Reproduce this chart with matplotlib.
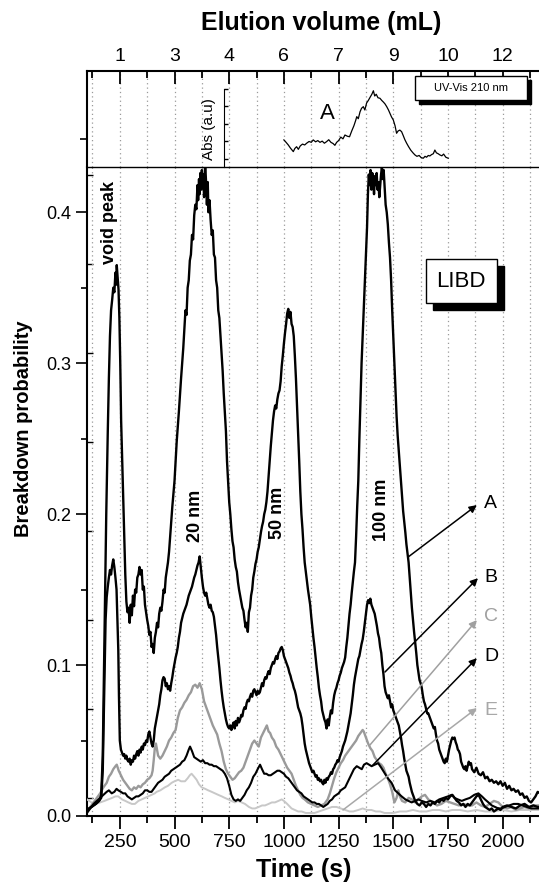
import numpy as np
import matplotlib
matplotlib.use("Agg")
import matplotlib.pyplot as plt
from matplotlib.ticker import MultipleLocator, FixedLocator, NullFormatter
from matplotlib.patches import Rectangle

plt.rcParams['font.family'] = ['Liberation Sans', 'DejaVu Sans']

# ---- data ---------------------------------------------------------------
# LIBD breakdown probability, fraction A
t_A = [100, 120, 140, 155, 165, 172, 180, 188, 195, 200, 205, 210, 215, 220, 225, 230, 233, 236, 240, 244,
       248, 252, 256, 260, 265, 270, 275, 280, 285, 290, 295, 300, 305, 310, 315, 320, 325, 330, 335, 340,
       345, 350, 355, 360, 365, 370, 375, 380, 385, 390, 395, 400, 405, 410, 415, 420, 425, 430, 435, 440,
       445, 450, 455, 460, 465, 470, 475, 480, 490, 500, 510, 520, 530, 540, 545, 550, 555, 560, 565, 570,
       575, 580, 585, 590, 595, 600, 605, 608, 612, 615, 618, 622, 625, 628, 632, 635, 640, 645, 648, 652,
       655, 660, 665, 670, 675, 680, 685, 690, 695, 700, 705, 710, 715, 720, 725, 730, 735, 740, 745, 750,
       755, 760, 765, 770, 775, 780, 785, 790, 795, 800, 805, 810, 815, 820, 825, 830, 835, 840, 845, 850,
       855, 860, 865, 870, 875, 880, 885, 890, 895, 900, 905, 910, 915, 920, 925, 930, 940, 950, 955, 960,
       965, 970, 975, 980, 985, 990, 995, 1000, 1005, 1010, 1015, 1020, 1025, 1030, 1035, 1040, 1045, 1050, 1055, 1060,
       1065, 1070, 1075, 1080, 1085, 1090, 1095, 1100, 1105, 1110, 1115, 1120, 1125, 1130, 1135, 1140, 1145, 1150, 1155, 1160,
       1165, 1170, 1175, 1180, 1185, 1190, 1195, 1200, 1205, 1210, 1215, 1220, 1225, 1230, 1235, 1240, 1245, 1250, 1255, 1260,
       1265, 1270, 1275, 1280, 1285, 1290, 1295, 1300, 1305, 1310, 1315, 1320, 1325, 1330, 1335, 1340, 1345, 1350, 1355, 1360,
       1365, 1370, 1375, 1380, 1384, 1388, 1392, 1396, 1400, 1404, 1408, 1412, 1416, 1420, 1424, 1428, 1432, 1436, 1440, 1444,
       1448, 1452, 1456, 1460, 1465, 1470, 1475, 1480, 1485, 1490, 1495, 1500, 1505, 1510, 1515, 1520, 1525, 1530, 1535, 1540,
       1545, 1550, 1555, 1560, 1565, 1570, 1575, 1580, 1585, 1590, 1595, 1600, 1605, 1610, 1615, 1620, 1625, 1630, 1635, 1640,
       1645, 1650, 1655, 1660, 1665, 1670, 1675, 1680, 1685, 1690, 1695, 1700, 1705, 1710, 1715, 1720, 1725, 1730, 1735, 1740,
       1745, 1750, 1755, 1760, 1765, 1770, 1775, 1780, 1785, 1790, 1795, 1800, 1805, 1810, 1815, 1820, 1825, 1830, 1835, 1840,
       1845, 1850, 1855, 1860, 1870, 1880, 1890, 1900, 1910, 1920, 1930, 1940, 1950, 1960, 1970, 1980, 1990, 2000, 2010, 2020,
       2030, 2040, 2050, 2060, 2070, 2080, 2090, 2100, 2110, 2120, 2130, 2140, 2150, 2160, 2170]
p_A = [0.004, 0.006, 0.008, 0.010, 0.014, 0.040, 0.120, 0.200, 0.255, 0.290, 0.318, 0.335, 0.342, 0.350, 0.347, 0.360, 0.352, 0.365, 0.357, 0.349,
       0.330, 0.300, 0.262, 0.240, 0.215, 0.185, 0.160, 0.142, 0.135, 0.138, 0.128, 0.140, 0.133, 0.146, 0.139, 0.150, 0.148, 0.158, 0.160, 0.165,
       0.160, 0.163, 0.150, 0.152, 0.140, 0.135, 0.130, 0.126, 0.120, 0.122, 0.112, 0.114, 0.108, 0.118, 0.122, 0.128, 0.125, 0.134, 0.138, 0.136,
       0.142, 0.150, 0.148, 0.158, 0.163, 0.168, 0.175, 0.185, 0.205, 0.222, 0.248, 0.268, 0.290, 0.310, 0.322, 0.335, 0.332, 0.350, 0.355, 0.368,
       0.372, 0.385, 0.382, 0.398, 0.405, 0.402, 0.418, 0.408, 0.422, 0.412, 0.426, 0.415, 0.428, 0.418, 0.425, 0.410, 0.432, 0.418, 0.405, 0.420,
       0.400, 0.408, 0.395, 0.385, 0.388, 0.372, 0.370, 0.355, 0.350, 0.335, 0.330, 0.318, 0.305, 0.295, 0.280, 0.268, 0.255, 0.235, 0.222, 0.208,
       0.200, 0.190, 0.182, 0.178, 0.170, 0.165, 0.162, 0.155, 0.150, 0.146, 0.142, 0.138, 0.136, 0.130, 0.125, 0.128, 0.122, 0.135, 0.138, 0.146,
       0.150, 0.158, 0.162, 0.167, 0.170, 0.175, 0.178, 0.183, 0.188, 0.192, 0.195, 0.200, 0.203, 0.208, 0.215, 0.225, 0.245, 0.262, 0.268, 0.272,
       0.270, 0.276, 0.280, 0.282, 0.288, 0.298, 0.305, 0.313, 0.320, 0.326, 0.333, 0.336, 0.330, 0.334, 0.326, 0.324, 0.318, 0.305, 0.290, 0.272,
       0.255, 0.235, 0.215, 0.200, 0.190, 0.178, 0.168, 0.162, 0.156, 0.150, 0.145, 0.140, 0.132, 0.125, 0.118, 0.112, 0.105, 0.098, 0.092, 0.085,
       0.080, 0.076, 0.070, 0.067, 0.064, 0.062, 0.058, 0.064, 0.060, 0.066, 0.070, 0.068, 0.075, 0.080, 0.083, 0.085, 0.088, 0.090, 0.093, 0.095,
       0.098, 0.100, 0.102, 0.105, 0.112, 0.118, 0.126, 0.134, 0.140, 0.148, 0.155, 0.162, 0.168, 0.185, 0.205, 0.222, 0.250, 0.275, 0.300, 0.318,
       0.335, 0.355, 0.372, 0.390, 0.412, 0.425, 0.418, 0.428, 0.415, 0.426, 0.420, 0.412, 0.424, 0.418, 0.426, 0.415, 0.420, 0.410, 0.418, 0.425,
       0.430, 0.422, 0.428, 0.418, 0.405, 0.400, 0.392, 0.380, 0.370, 0.355, 0.335, 0.318, 0.300, 0.282, 0.265, 0.252, 0.242, 0.232, 0.222, 0.212,
       0.202, 0.195, 0.188, 0.180, 0.174, 0.168, 0.158, 0.148, 0.138, 0.130, 0.122, 0.115, 0.108, 0.100, 0.095, 0.090, 0.088, 0.085, 0.080, 0.076,
       0.074, 0.071, 0.068, 0.068, 0.066, 0.064, 0.062, 0.060, 0.058, 0.059, 0.054, 0.050, 0.048, 0.044, 0.042, 0.040, 0.038, 0.036, 0.035, 0.038,
       0.036, 0.040, 0.044, 0.047, 0.050, 0.052, 0.051, 0.052, 0.049, 0.047, 0.044, 0.043, 0.041, 0.036, 0.034, 0.032, 0.031, 0.033, 0.030, 0.033,
       0.036, 0.034, 0.035, 0.031, 0.029, 0.032, 0.028, 0.027, 0.029, 0.025, 0.026, 0.023, 0.024, 0.022, 0.023, 0.021, 0.023, 0.020, 0.022, 0.018,
       0.020, 0.017, 0.018, 0.016, 0.017, 0.014, 0.015, 0.012, 0.013, 0.010, 0.009, 0.011, 0.013, 0.016, 0.015]

t_B = [100, 120, 140, 155, 165, 172, 180, 185, 190, 195, 200, 205, 210, 215, 220, 225, 230, 235, 240, 243,
       246, 250, 255, 260, 265, 270, 275, 280, 285, 290, 295, 300, 305, 310, 315, 320, 325, 330, 335, 340,
       345, 350, 355, 360, 365, 370, 375, 380, 385, 390, 395, 400, 405, 410, 415, 420, 425, 430, 435, 440,
       445, 450, 455, 460, 465, 470, 475, 480, 485, 490, 495, 500, 505, 510, 515, 520, 525, 530, 535, 540,
       545, 550, 555, 560, 565, 570, 575, 580, 585, 590, 595, 600, 605, 610, 615, 620, 625, 630, 635, 640,
       645, 650, 655, 660, 665, 670, 675, 680, 685, 690, 695, 700, 705, 710, 715, 720, 725, 730, 735, 740,
       745, 750, 755, 760, 765, 770, 775, 780, 785, 790, 795, 800, 805, 810, 815, 820, 825, 830, 835, 840,
       845, 850, 855, 860, 865, 870, 875, 880, 885, 890, 895, 900, 905, 910, 915, 920, 925, 930, 935, 940,
       945, 950, 955, 960, 965, 970, 975, 980, 985, 990, 995, 1000, 1005, 1010, 1015, 1020, 1025, 1030, 1035, 1040,
       1045, 1050, 1055, 1060, 1065, 1070, 1075, 1080, 1085, 1090, 1095, 1100, 1105, 1110, 1115, 1120, 1125, 1130, 1135, 1140,
       1145, 1150, 1155, 1160, 1165, 1170, 1175, 1180, 1185, 1190, 1195, 1200, 1205, 1210, 1215, 1220, 1225, 1230, 1235, 1240,
       1245, 1250, 1255, 1260, 1265, 1270, 1275, 1280, 1285, 1290, 1295, 1300, 1305, 1310, 1315, 1320, 1325, 1330, 1335, 1340,
       1345, 1350, 1355, 1360, 1365, 1370, 1375, 1380, 1385, 1390, 1395, 1400, 1405, 1410, 1415, 1420, 1425, 1430, 1435, 1440,
       1445, 1450, 1455, 1460, 1465, 1470, 1475, 1480, 1485, 1490, 1495, 1500, 1505, 1510, 1515, 1520, 1525, 1530, 1535, 1540,
       1545, 1550, 1555, 1560, 1565, 1570, 1575, 1580, 1585, 1590, 1595, 1600, 1610, 1620, 1630, 1640, 1650, 1660, 1670, 1680,
       1690, 1700, 1710, 1720, 1730, 1740, 1750, 1760, 1770, 1780, 1790, 1800, 1810, 1820, 1830, 1840, 1850, 1860, 1870, 1880,
       1890, 1900, 1910, 1920, 1930, 1940, 1950, 1960, 1970, 1980, 1990, 2000, 2020, 2040, 2060, 2080, 2100, 2120, 2140, 2160, 2170]
p_B = [0.004, 0.006, 0.008, 0.010, 0.012, 0.030, 0.090, 0.130, 0.145, 0.152, 0.158, 0.163, 0.160, 0.166, 0.170, 0.165, 0.158, 0.150, 0.125, 0.110,
       0.080, 0.050, 0.044, 0.042, 0.040, 0.041, 0.038, 0.040, 0.037, 0.036, 0.038, 0.034, 0.037, 0.036, 0.040, 0.038, 0.041, 0.043, 0.040, 0.044,
       0.042, 0.046, 0.044, 0.048, 0.047, 0.050, 0.049, 0.054, 0.056, 0.052, 0.048, 0.046, 0.050, 0.058, 0.062, 0.066, 0.070, 0.074, 0.080, 0.084,
       0.090, 0.092, 0.091, 0.086, 0.088, 0.084, 0.086, 0.083, 0.088, 0.092, 0.097, 0.101, 0.105, 0.108, 0.112, 0.118, 0.122, 0.128, 0.131, 0.134,
       0.136, 0.138, 0.140, 0.143, 0.146, 0.148, 0.150, 0.152, 0.155, 0.158, 0.160, 0.163, 0.166, 0.168, 0.172, 0.165, 0.158, 0.152, 0.148, 0.146,
       0.148, 0.144, 0.140, 0.138, 0.140, 0.136, 0.135, 0.132, 0.126, 0.120, 0.112, 0.105, 0.098, 0.090, 0.083, 0.077, 0.072, 0.068, 0.064, 0.061,
       0.059, 0.058, 0.060, 0.057, 0.060, 0.062, 0.058, 0.063, 0.060, 0.065, 0.062, 0.064, 0.067, 0.066, 0.070, 0.072, 0.071, 0.075, 0.077, 0.076,
       0.079, 0.081, 0.079, 0.083, 0.084, 0.082, 0.080, 0.083, 0.081, 0.082, 0.085, 0.088, 0.086, 0.090, 0.092, 0.091, 0.094, 0.096, 0.094, 0.098,
       0.100, 0.102, 0.101, 0.104, 0.106, 0.104, 0.108, 0.109, 0.111, 0.112, 0.110, 0.106, 0.104, 0.102, 0.100, 0.098, 0.095, 0.093, 0.090, 0.088,
       0.085, 0.083, 0.080, 0.076, 0.072, 0.070, 0.068, 0.065, 0.060, 0.054, 0.048, 0.044, 0.041, 0.038, 0.035, 0.033, 0.031, 0.029, 0.030, 0.028,
       0.026, 0.027, 0.024, 0.025, 0.023, 0.024, 0.022, 0.021, 0.024, 0.022, 0.025, 0.024, 0.026, 0.027, 0.029, 0.028, 0.031, 0.032, 0.034, 0.035,
       0.037, 0.036, 0.039, 0.041, 0.043, 0.046, 0.048, 0.050, 0.053, 0.056, 0.060, 0.064, 0.068, 0.074, 0.080, 0.087, 0.092, 0.096, 0.100, 0.104,
       0.106, 0.110, 0.114, 0.117, 0.122, 0.128, 0.134, 0.140, 0.143, 0.141, 0.144, 0.140, 0.138, 0.136, 0.134, 0.130, 0.126, 0.121, 0.118, 0.112,
       0.108, 0.100, 0.094, 0.086, 0.082, 0.080, 0.078, 0.080, 0.076, 0.072, 0.074, 0.070, 0.068, 0.066, 0.064, 0.062, 0.060, 0.056, 0.052, 0.047,
       0.043, 0.038, 0.034, 0.030, 0.028, 0.026, 0.022, 0.019, 0.016, 0.014, 0.012, 0.010, 0.008, 0.007, 0.009, 0.008, 0.006, 0.008, 0.007, 0.009,
       0.008, 0.010, 0.009, 0.011, 0.010, 0.012, 0.011, 0.013, 0.014, 0.012, 0.010, 0.009, 0.007, 0.008, 0.006, 0.008, 0.007, 0.009, 0.011, 0.013,
       0.014, 0.011, 0.008, 0.006, 0.005, 0.004, 0.005, 0.003, 0.004, 0.005, 0.004, 0.006, 0.007, 0.006, 0.005, 0.007, 0.008, 0.006, 0.007, 0.006, 0.006]

t_C = [100, 115, 130, 145, 160, 175, 190, 200, 210, 220, 230, 236, 245, 255, 265, 275, 285, 295, 305, 315,
       325, 335, 345, 355, 365, 375, 385, 395, 400, 405, 410, 415, 420, 425, 435, 445, 455, 465, 475, 485,
       495, 505, 515, 525, 535, 545, 555, 565, 575, 585, 595, 605, 615, 625, 635, 645, 655, 665, 675, 685,
       695, 705, 715, 725, 735, 745, 755, 765, 775, 785, 795, 805, 815, 825, 835, 845, 855, 865, 875, 885,
       895, 905, 915, 922, 930, 937, 945, 955, 965, 975, 985, 995, 1005, 1015, 1025, 1035, 1045, 1055, 1065, 1075,
       1085, 1095, 1110, 1125, 1140, 1155, 1170, 1185, 1200, 1210, 1220, 1230, 1240, 1250, 1260, 1270, 1280, 1290, 1300, 1310,
       1320, 1330, 1340, 1350, 1360, 1365, 1375, 1385, 1395, 1405, 1415, 1425, 1435, 1445, 1455, 1465, 1475, 1485, 1495, 1505,
       1515, 1523, 1530, 1540, 1555, 1570, 1585, 1600, 1615, 1630, 1645, 1660, 1680, 1700, 1720, 1740, 1760, 1780, 1800, 1820,
       1840, 1860, 1880, 1900, 1920, 1940, 1960, 1980, 2000, 2020, 2040, 2060, 2080, 2100, 2120, 2140, 2170]
p_C = [0.003, 0.006, 0.009, 0.012, 0.015, 0.019, 0.022, 0.026, 0.028, 0.031, 0.033, 0.034, 0.030, 0.027, 0.024, 0.022, 0.020, 0.018, 0.017, 0.019,
       0.018, 0.020, 0.019, 0.021, 0.022, 0.024, 0.025, 0.027, 0.030, 0.037, 0.045, 0.048, 0.044, 0.040, 0.038, 0.040, 0.043, 0.046, 0.050, 0.052,
       0.055, 0.057, 0.065, 0.070, 0.072, 0.075, 0.077, 0.080, 0.082, 0.086, 0.087, 0.085, 0.088, 0.084, 0.076, 0.072, 0.068, 0.064, 0.060, 0.057,
       0.054, 0.048, 0.043, 0.036, 0.031, 0.028, 0.026, 0.024, 0.025, 0.027, 0.029, 0.030, 0.032, 0.036, 0.040, 0.044, 0.048, 0.050, 0.048, 0.046,
       0.052, 0.055, 0.058, 0.060, 0.056, 0.055, 0.052, 0.050, 0.046, 0.044, 0.041, 0.038, 0.035, 0.032, 0.030, 0.028, 0.024, 0.020, 0.017, 0.014,
       0.012, 0.011, 0.009, 0.008, 0.007, 0.006, 0.007, 0.008, 0.011, 0.015, 0.020, 0.025, 0.029, 0.032, 0.035, 0.037, 0.040, 0.042, 0.044, 0.046,
       0.048, 0.050, 0.053, 0.055, 0.057, 0.056, 0.052, 0.048, 0.045, 0.043, 0.039, 0.037, 0.035, 0.034, 0.032, 0.028, 0.025, 0.021, 0.016, 0.009,
       0.012, 0.017, 0.013, 0.010, 0.009, 0.012, 0.011, 0.009, 0.011, 0.013, 0.014, 0.011, 0.009, 0.007, 0.008, 0.010, 0.009, 0.008, 0.007, 0.008,
       0.007, 0.007, 0.009, 0.007, 0.006, 0.008, 0.010, 0.009, 0.006, 0.005, 0.006, 0.004, 0.005, 0.006, 0.005, 0.007, 0.007]

t_D = [100, 115, 130, 145, 160, 175, 190, 200, 213, 225, 235, 243, 255, 265, 275, 285, 295, 305, 315, 325,
       335, 345, 355, 365, 375, 385, 395, 405, 415, 425, 435, 445, 455, 465, 475, 485, 495, 505, 515, 525,
       535, 545, 555, 565, 571, 580, 590, 600, 610, 620, 630, 640, 650, 660, 670, 680, 690, 700, 710, 720,
       730, 740, 750, 760, 770, 780, 790, 800, 810, 820, 830, 840, 850, 860, 870, 880, 891, 900, 910, 920,
       930, 940, 950, 960, 970, 980, 990, 1000, 1010, 1020, 1030, 1040, 1050, 1060, 1070, 1080, 1090, 1100, 1110, 1120,
       1130, 1140, 1150, 1160, 1170, 1180, 1190, 1200, 1210, 1220, 1230, 1240, 1250, 1260, 1270, 1280, 1290, 1300, 1310, 1320,
       1333, 1345, 1356, 1366, 1378, 1390, 1401, 1415, 1431, 1445, 1462, 1475, 1492, 1508, 1523, 1538, 1555, 1570, 1584, 1600,
       1615, 1630, 1650, 1670, 1690, 1710, 1730, 1750, 1767, 1780, 1795, 1813, 1830, 1850, 1870, 1889, 1905, 1919, 1935, 1950,
       1965, 1980, 1995, 2010, 2030, 2050, 2071, 2090, 2110, 2130, 2150, 2170]
p_D = [0.002, 0.005, 0.008, 0.010, 0.012, 0.014, 0.016, 0.017, 0.015, 0.016, 0.018, 0.017, 0.016, 0.015, 0.015, 0.013, 0.012, 0.011, 0.012, 0.013,
       0.013, 0.014, 0.015, 0.017, 0.017, 0.016, 0.016, 0.018, 0.020, 0.022, 0.023, 0.024, 0.026, 0.027, 0.028, 0.030, 0.031, 0.032, 0.033, 0.034,
       0.036, 0.037, 0.040, 0.044, 0.046, 0.043, 0.039, 0.038, 0.037, 0.036, 0.037, 0.035, 0.035, 0.034, 0.034, 0.033, 0.033, 0.032, 0.031, 0.030,
       0.028, 0.025, 0.020, 0.014, 0.011, 0.010, 0.011, 0.010, 0.012, 0.014, 0.017, 0.019, 0.022, 0.026, 0.028, 0.031, 0.034, 0.031, 0.028, 0.028,
       0.027, 0.027, 0.028, 0.029, 0.030, 0.030, 0.029, 0.028, 0.026, 0.025, 0.023, 0.021, 0.019, 0.017, 0.016, 0.015, 0.013, 0.012, 0.011, 0.010,
       0.009, 0.009, 0.008, 0.008, 0.007, 0.006, 0.007, 0.008, 0.010, 0.011, 0.013, 0.014, 0.015, 0.017, 0.018, 0.019, 0.022, 0.025, 0.028, 0.031,
       0.033, 0.032, 0.031, 0.034, 0.035, 0.034, 0.033, 0.034, 0.035, 0.032, 0.028, 0.025, 0.022, 0.017, 0.015, 0.013, 0.011, 0.010, 0.009, 0.010,
       0.011, 0.010, 0.009, 0.010, 0.009, 0.011, 0.012, 0.013, 0.014, 0.012, 0.011, 0.010, 0.011, 0.012, 0.014, 0.015, 0.013, 0.011, 0.009, 0.007,
       0.006, 0.005, 0.005, 0.006, 0.007, 0.008, 0.008, 0.007, 0.006, 0.005, 0.005, 0.005]

t_E = [100, 120, 140, 160, 180, 197, 215, 230, 243, 260, 275, 289, 305, 319, 335, 350, 365, 380, 395, 410,
       418, 435, 456, 470, 487, 500, 517, 530, 548, 560, 570, 578, 590, 601, 612, 624, 640, 654, 670, 685,
       700, 716, 730, 746, 760, 776, 790, 807, 822, 840, 855, 868, 885, 900, 914, 930, 945, 959, 975, 990,
       1000, 1015, 1035, 1050, 1065, 1081, 1100, 1120, 1140, 1160, 1180, 1200, 1220, 1241, 1260, 1280, 1300, 1317, 1340, 1360,
       1380, 1400, 1420, 1440, 1460, 1480, 1500, 1530, 1560, 1590, 1620, 1652, 1680, 1710, 1740, 1770, 1805, 1840, 1880, 1920,
       1957, 2000, 2040, 2080, 2120, 2170]
p_E = [0.011, 0.009, 0.008, 0.009, 0.010, 0.011, 0.012, 0.013, 0.013, 0.011, 0.010, 0.009, 0.008, 0.008, 0.010, 0.011, 0.012, 0.013, 0.014, 0.015,
       0.016, 0.017, 0.019, 0.020, 0.022, 0.023, 0.024, 0.023, 0.023, 0.025, 0.027, 0.028, 0.026, 0.024, 0.021, 0.019, 0.018, 0.017, 0.016, 0.015,
       0.014, 0.013, 0.012, 0.011, 0.010, 0.009, 0.010, 0.009, 0.008, 0.006, 0.005, 0.005, 0.006, 0.007, 0.007, 0.008, 0.009, 0.009, 0.010, 0.011,
       0.010, 0.008, 0.005, 0.004, 0.003, 0.003, 0.002, 0.002, 0.002, 0.003, 0.004, 0.005, 0.006, 0.006, 0.005, 0.004, 0.003, 0.003, 0.004, 0.005,
       0.004, 0.004, 0.003, 0.003, 0.002, 0.002, 0.002, 0.003, 0.003, 0.004, 0.003, 0.003, 0.004, 0.004, 0.003, 0.004, 0.004, 0.003, 0.004, 0.003,
       0.003, 0.004, 0.003, 0.004, 0.004, 0.004]

# UV-Vis 210 nm trace of fraction A (arbitrary units)
t_uv = [1000, 1010, 1020, 1030, 1043, 1050, 1058, 1066, 1075, 1085, 1095, 1104, 1115, 1125, 1134, 1145, 1155, 1165, 1175, 1185,
        1195, 1205, 1215, 1225, 1233, 1241, 1250, 1260, 1270, 1279, 1290, 1300, 1310, 1320, 1328, 1333, 1340, 1348, 1355, 1363,
        1370, 1378, 1386, 1395, 1402, 1409, 1415, 1422, 1430, 1439, 1447, 1455, 1462, 1470, 1478, 1485, 1492, 1500, 1508, 1515,
        1522, 1530, 1538, 1545, 1553, 1561, 1570, 1580, 1590, 1599, 1608, 1618, 1627, 1637, 1645, 1652, 1660, 1667, 1675, 1683,
        1690, 1697, 1705, 1713, 1722, 1730, 1740, 1751]
abs_uv = [2.09, 1.95, 1.80, 1.62, 1.42, 1.60, 1.70, 1.55, 1.75, 1.85, 1.80, 1.90, 2.00, 1.95, 2.09, 1.98, 2.05, 1.95, 2.02, 1.90,
          1.99, 2.10, 1.95, 1.88, 1.78, 1.95, 2.05, 2.25, 2.15, 2.37, 2.30, 2.27, 2.60, 2.90, 3.20, 3.42, 3.30, 3.70, 3.90, 3.99,
          3.80, 4.20, 4.35, 4.55, 4.70, 4.90, 4.60, 4.70, 4.50, 4.47, 4.35, 4.25, 4.15, 3.99, 3.80, 3.60, 3.40, 3.23, 2.90, 2.47,
          2.60, 2.65, 2.56, 2.35, 2.10, 1.90, 1.70, 1.50, 1.35, 1.23, 1.15, 1.20, 1.08, 1.04, 1.15, 1.10, 1.20, 1.17, 1.25, 1.30,
          1.51, 1.35, 1.30, 1.23, 1.18, 1.28, 1.10, 1.04]

time_ticks = [250, 500, 750, 1000, 1250, 1500, 1750, 2000]
volume_labels = ['1', '3', '4', '6', '7', '9', '10', '12']
series_names = ['A', 'B', 'C', 'D', 'E']
series_colors = ['black', 'black', '#9a9a9a', 'black', '#c8c8c8']
label_colors = ['black', 'black', '#a0a0a0', 'black', '#a8a8a8']

W, H = 539, 886
fig = plt.figure(figsize=(W / 100, H / 100), dpi=100)

def fx(px):
    return px / W

def fy(py):
    return 1 - py / H

left, right, bottom, mid, top = 87, 539, 816, 167, 71
ax = fig.add_axes([fx(left), fy(bottom), fx(right - left), fy(mid) - fy(bottom)])
ax_top = fig.add_axes([fx(left), fy(mid), fx(right - left), fy(top) - fy(mid)])

xlim = (100, 2166)
grid_kw = dict(color='#9a9a9a', linestyle=(0, (1, 2.5)), linewidth=0.9)

# ---- main LIBD panel -----------------------------------------------------
widths = [1.7, 1.7, 1.7, 1.5, 1.4]
order = [4, 2, 3, 1, 0]
data = [(t_A, p_A), (t_B, p_B), (t_C, p_C), (t_D, p_D), (t_E, p_E)]
for i in order:
    ax.plot(data[i][0], data[i][1], color=series_colors[i], lw=widths[i], zorder=3 + (i in (0, 1, 3)))

ax.set_xlim(*xlim)
ax.set_ylim(0, 0.43)
ax.set_xticks(time_ticks)
ax.xaxis.set_minor_locator(MultipleLocator(125))
ax.set_yticks([0.0, 0.1, 0.2, 0.3, 0.4])
ax.set_yticklabels(['0.0', '0.1', '0.2', '0.3', '0.4'])
ax.yaxis.set_minor_locator(MultipleLocator(0.05))
ax.tick_params(axis='x', which='major', direction='out', length=9, width=1.3, labelsize=14, pad=4)
ax.tick_params(axis='x', which='minor', direction='out', length=5, width=1.3)
ax.tick_params(axis='y', which='major', direction='out', length=8, width=1.2, labelsize=13, pad=3)
ax.tick_params(axis='y', which='minor', direction='out', length=4, width=1.2)
ax.grid(True, which='both', axis='x', **grid_kw)
for s in ['top', 'right']:
    ax.spines[s].set_visible(False)
ax.spines['left'].set_linewidth(1.5)
ax.spines['bottom'].set_linewidth(1.5)

# inner ticks of the second layer on the left axis
sec = ax.secondary_yaxis('left', functions=(lambda p: (p * 1510 - 18) / 89, lambda k: (k * 89 + 18) / 1510))
sec.set_yticks(range(0, 8))
sec.yaxis.set_major_formatter(NullFormatter())
sec.tick_params(direction='in', length=4, width=1.0)
sec.spines['left'].set_visible(False)

# annotations
ax.text(205, 0.393, 'void peak', rotation=90, fontsize=13, fontweight='bold', ha='center', va='center')
ax.text(594, 0.199, '20 nm', rotation=90, fontsize=13, fontweight='bold', ha='center', va='center')
ax.text(973, 0.201, '50 nm', rotation=90, fontsize=13, fontweight='bold', ha='center', va='center')
ax.text(1448, 0.203, '100 nm', rotation=90, fontsize=13, fontweight='bold', ha='center', va='center')

arrow_start = [(1567, 0.1715), (1462, 0.0954), (1393, 0.047), (1407, 0.0338), (1270, 0.004)]
arrow_end = [(1882, 0.206), (1887, 0.1576), (1882, 0.1298), (1882, 0.1046), (1882, 0.0715)]
label_y = [0.2073, 0.158, 0.132, 0.106, 0.070]
for i, name in enumerate(series_names):
    ax.annotate('', xy=arrow_end[i], xytext=arrow_start[i],
                arrowprops=dict(arrowstyle='-|>', color=label_colors[i], lw=1.1, mutation_scale=11,
                                shrinkA=0, shrinkB=0), zorder=6)
    ax.text(1915, label_y[i], name, color=label_colors[i], fontsize=14, ha='left', va='center')

# LIBD label box with shadow
ax.add_patch(Rectangle((1681, 0.3351), 325, 0.0291, facecolor='black', edgecolor='black', zorder=7))
ax.add_patch(Rectangle((1649, 0.3397), 325, 0.0292, facecolor='white', edgecolor='black', lw=1.0, zorder=8))
ax.text(1811, 0.3543, 'LIBD', fontsize=16, ha='center', va='center', zorder=9)

# ---- top UV-Vis panel ---------------------------------------------------
ax_top.set_xlim(*xlim)
ax_top.set_ylim(0, 1)
ax_top.set_xticks(time_ticks)
ax_top.set_xticklabels(volume_labels)
ax_top.xaxis.set_minor_locator(MultipleLocator(125))
ax_top.xaxis.tick_top()
ax_top.tick_params(axis='x', which='major', direction='in', length=9, width=1.3, labelsize=14, pad=4)
ax_top.tick_params(axis='x', which='minor', direction='in', length=5, width=1.3)
ax_top.yaxis.set_major_locator(FixedLocator([0.29]))
ax_top.yaxis.set_major_formatter(NullFormatter())
ax_top.tick_params(axis='y', direction='out', length=5, width=1.2)
ax_top.grid(True, which='both', axis='x', **grid_kw)
ax_top.spines['right'].set_visible(False)
ax_top.spines['left'].set_linewidth(1.5)
ax_top.spines['top'].set_linewidth(1.5)
ax_top.spines['bottom'].set_linewidth(1.0)

ax_uv = ax_top.twinx()
ax_uv.set_xlim(*xlim)
ax_uv.plot(t_uv, abs_uv, color='black', lw=0.9)
ax_uv.set_ylim(0.54, 6.03)
ax_uv.set_yticks([1, 2, 3, 4, 5])
ax_uv.yaxis.set_major_formatter(NullFormatter())
ax_uv.spines['right'].set_position(('data', 726))
ax_uv.spines['right'].set_bounds(0.54, 5)
for s in ['top', 'left', 'bottom']:
    ax_uv.spines[s].set_visible(False)
ax_uv.tick_params(axis='y', direction='out', length=3, width=1.0)
ax_uv.text(658, 2.71, 'Abs (a.u)', rotation=90, fontsize=11, ha='center', va='center')
ax_uv.text(1197, 0.5625, 'A', transform=ax_uv.get_xaxis_transform(), fontsize=16, ha='center', va='center')

xt = ax_top.get_xaxis_transform()
ax_top.add_patch(Rectangle((1617, 0.656), 512, 0.25, transform=xt, facecolor='black', edgecolor='black', zorder=5))
ax_top.add_patch(Rectangle((1599, 0.698), 512, 0.25, transform=xt, facecolor='white', edgecolor='black', lw=1.0, zorder=6))
ax_top.text(1855, 0.823, 'UV-Vis 210 nm', transform=xt, fontsize=8, ha='center', va='center', zorder=7)

# axis titles
fig.text(fx(304), fy(870), 'Time (s)', fontsize=18, fontweight='bold', ha='center', va='center')
fig.text(fx(321), fy(23), 'Elution volume (mL)', fontsize=18, fontweight='bold', ha='center', va='center')
fig.text(fx(24), fy(429), 'Breakdown probability', fontsize=14.5, fontweight='bold', rotation=90,
         ha='center', va='center')

fig.savefig('out.png', dpi=100)
